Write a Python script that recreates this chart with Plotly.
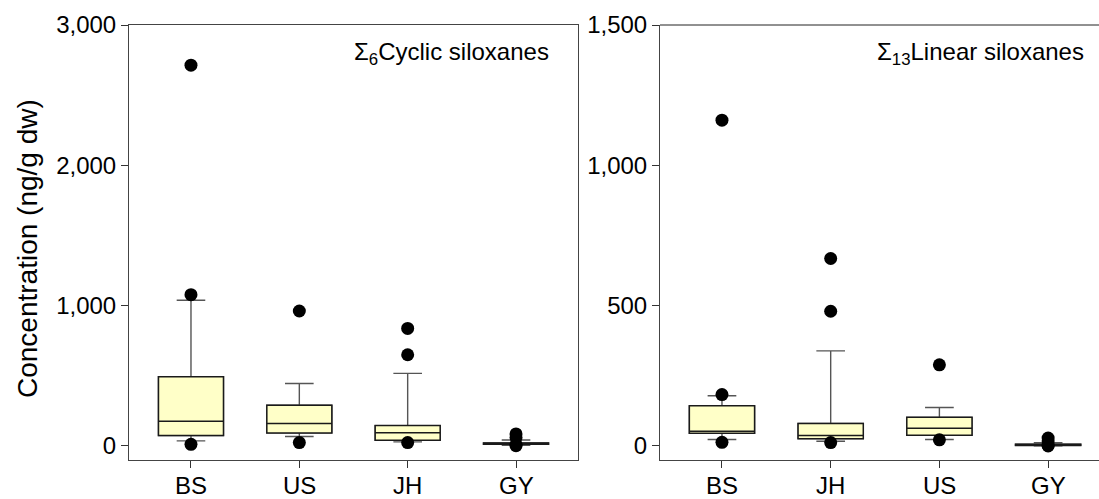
import plotly.graph_objects as go

# Σ6 cyclic siloxanes (ng/g dw), per site
cyc_sites = ["BS", "US", "JH", "GY"]
cyc_q1 = [74, 93, 40, 12]
cyc_median = [176, 160, 95, 18]
cyc_q3 = [493, 290, 145, 22]
cyc_lower = [36, 67, 29, 5]
cyc_upper = [1038, 445, 517, 43]
cyc_out_site = ["BS", "BS", "BS", "US", "US", "JH", "JH", "JH", "GY", "GY", "GY", "GY"]
cyc_out_value = [2714, 1078, 12, 962, 24, 838, 650, 24, 86, 60, 10, 2]

# Σ13 linear siloxanes (ng/g dw), per site
lin_sites = ["BS", "JH", "US", "GY"]
lin_q1 = [45, 26, 38, 2]
lin_median = [52, 37, 63, 4]
lin_q3 = [143, 80, 102, 6]
lin_lower = [23, 17, 23, 1]
lin_upper = [179, 339, 137, 12]
lin_out_site = ["BS", "BS", "BS", "JH", "JH", "JH", "US", "US", "GY", "GY", "GY", "GY"]
lin_out_value = [1161, 183, 13, 668, 480, 12, 289, 22, 28, 18, 3, 0]

cyc_ticks = [0, 1000, 2000, 3000]
lin_ticks = [0, 500, 1000, 1500]

FONT = "Liberation Sans, Arial, sans-serif"
FILL = "#ffffc8"
W, H = 1099, 499

fig = go.Figure()
site_labels = []


def add_panel(sites, q1, med, q3, lo, hi, out_site, out_val, xa, ya):
    pos = list(range(len(sites)))
    # whiskers (grey), drawn under the box outline
    fig.add_trace(go.Box(
        x=pos, q1=q1, median=med, q3=q3, lowerfence=lo, upperfence=hi,
        width=0.6, whiskerwidth=0.44, fillcolor=FILL,
        line=dict(color="#555555", width=1.4),
        boxpoints=False, hoverinfo="skip", xaxis=xa, yaxis=ya, showlegend=False))
    # box body with median (dark outline)
    fig.add_trace(go.Box(
        x=pos, q1=q1, median=med, q3=q3, lowerfence=q1, upperfence=q3,
        width=0.6, whiskerwidth=0.0, fillcolor=FILL,
        line=dict(color="#1a1a1a", width=1.5),
        boxpoints=False, xaxis=xa, yaxis=ya, showlegend=False))
    # outliers
    fig.add_trace(go.Scatter(
        x=[sites.index(s) for s in out_site], y=out_val, mode="markers",
        marker=dict(color="black", size=13), xaxis=xa, yaxis=ya, showlegend=False))
    # site names under the category ticks
    for p, s in zip(pos, sites):
        site_labels.append(dict(
            text=s, xref=xa, yref="paper", x=p, y=1 - 485 / H,
            xanchor="center", yanchor="middle", showarrow=False,
            font=dict(family=FONT, size=24, color="black")))
    return pos


p1 = add_panel(cyc_sites, cyc_q1, cyc_median, cyc_q3, cyc_lower, cyc_upper,
               cyc_out_site, cyc_out_value, "x", "y")
p2 = add_panel(lin_sites, lin_q1, lin_median, lin_q3, lin_lower, lin_upper,
               lin_out_site, lin_out_value, "x2", "y2")

y_dom = [1 - 460 / H, 1 - 25 / H]
axis_common = dict(showgrid=False, zeroline=False, ticks="outside", ticklen=7,
                   tickcolor="#333333", linecolor="#444444", linewidth=1,
                   showline=True, automargin=False,
                   tickfont=dict(family=FONT, size=24, color="black"))

fig.update_layout(
    width=W, height=H, margin=dict(l=0, r=0, t=0, b=0, autoexpand=False),
    paper_bgcolor="white", plot_bgcolor="white", boxmode="overlay",
    font=dict(family=FONT, color="black"),
    xaxis=dict(domain=[129 / W, 578 / W], range=[-0.572, 3.572],
               tickvals=p1, showticklabels=False, mirror=True, **axis_common),
    yaxis=dict(domain=y_dom, range=[-100, 3000], tickvals=cyc_ticks,
               tickformat=",d", mirror=True, **axis_common),
    xaxis2=dict(domain=[660 / W, 1.0], range=[-0.57, 3.468], anchor="y2",
                tickvals=p2, showticklabels=False, **axis_common),
    yaxis2=dict(domain=y_dom, range=[-50, 1500], anchor="x2", tickvals=lin_ticks,
                tickformat=",d", **axis_common),
    shapes=[dict(type="line", xref="paper", yref="paper", x0=660 / W, x1=1.0,
                 y0=y_dom[1], y1=y_dom[1], line=dict(color="#222222", width=1))],
    annotations=site_labels + [
        dict(text="Σ<sub>6</sub>Cyclic siloxanes", xref="paper", yref="paper",
             x=551 / W, y=1 - 53 / H, xanchor="right", yanchor="middle",
             showarrow=False, font=dict(family=FONT, size=24, color="black")),
        dict(text="Σ<sub>13</sub>Linear siloxanes", xref="paper", yref="paper",
             x=1086 / W, y=1 - 53 / H, xanchor="right", yanchor="middle",
             showarrow=False, font=dict(family=FONT, size=24, color="black")),
        dict(text="Concentration (ng/g dw)", xref="paper", yref="paper",
             x=28 / W, y=1 - 249 / H, xanchor="center", yanchor="middle",
             textangle=-90, showarrow=False,
             font=dict(family=FONT, size=28, color="black")),
    ],
)

fig.write_html("out.html")
